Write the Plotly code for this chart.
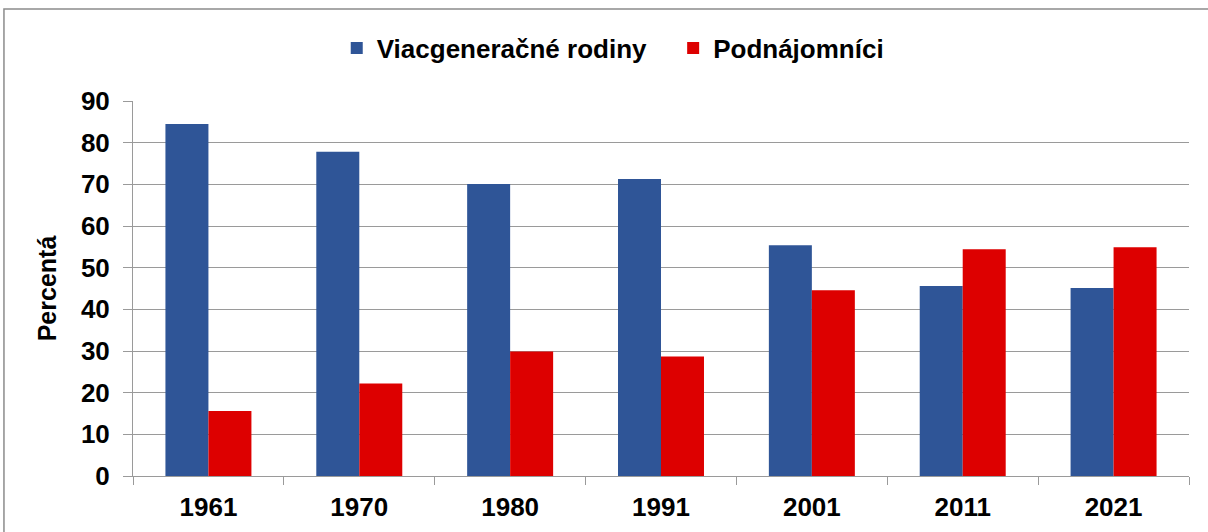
import plotly.graph_objects as go

years = ["1961", "1970", "1980", "1991", "2001", "2011", "2021"]
viacgen = [84.5, 77.8, 70.1, 71.3, 55.4, 45.6, 45.1]
podnaj = [15.6, 22.2, 29.9, 28.7, 44.6, 54.4, 54.9]
yticks = [0, 10, 20, 30, 40, 50, 60, 70, 80, 90]

FONT = "Liberation Sans, Arial, sans-serif"
NB = "\u00a0"

fig = go.Figure()
fig.add_bar(x=years, y=viacgen, name="<b>Viacgeneračné rodiny</b>" + NB * 3,
            marker=dict(color="#2F5597", line=dict(width=0)))
fig.add_bar(x=years, y=podnaj, name="<b>Podnájomníci</b>",
            marker=dict(color="#DD0000", line=dict(width=0)))

fig.update_layout(
    width=1208, height=532,
    margin=dict(l=133, r=19, t=101, b=56),
    paper_bgcolor="white", plot_bgcolor="white",
    barmode="group", bargap=0.43, bargroupgap=0,
    font=dict(family=FONT, color="black"),
    legend=dict(orientation="h", x=0.4543, xanchor="center", y=1.1413, yanchor="middle",
                font=dict(size=26, family=FONT, color="black"),
                itemwidth=30, traceorder="normal", tracegroupgap=0,
                bgcolor="rgba(0,0,0,0)"),
    showlegend=True,
)
fig.update_yaxes(
    range=[0, 90], tickvals=yticks, ticktext=[f"<b>{v}</b>" for v in yticks],
    showgrid=True, gridcolor="#9a9a9a", gridwidth=1,
    showline=True, linecolor="#9a9a9a", linewidth=1,
    ticks="outside", ticklen=9, tickcolor="#9a9a9a",
    ticklabelstandoff=8,
    tickfont=dict(size=26, family=FONT, color="black"),
    title=dict(text="<b>Percentá</b>", font=dict(size=25, family=FONT, color="black"), standoff=17),
    zeroline=False, automargin=False,
)
fig.update_xaxes(
    type="category", tickson="boundaries",
    showline=True, linecolor="#9a9a9a", linewidth=1,
    ticks="outside", ticklen=8, tickcolor="#9a9a9a",
    ticklabelstandoff=8,
    tickvals=years, ticktext=[f"<b>{y}</b>" for y in years],
    tickfont=dict(size=26, family=FONT, color="black"),
    showgrid=False, automargin=False,
)
fig.add_shape(type="rect", xref="paper", yref="paper",
              x0=-0.1222, x1=1.05, y0=-0.2, y1=1.2453,
              line=dict(color="#8c8c8c", width=1.5), fillcolor="rgba(0,0,0,0)", layer="below")

fig.write_html("out.html", config={"displayModeBar": False},
               post_script="document.body.style.margin='0';")
